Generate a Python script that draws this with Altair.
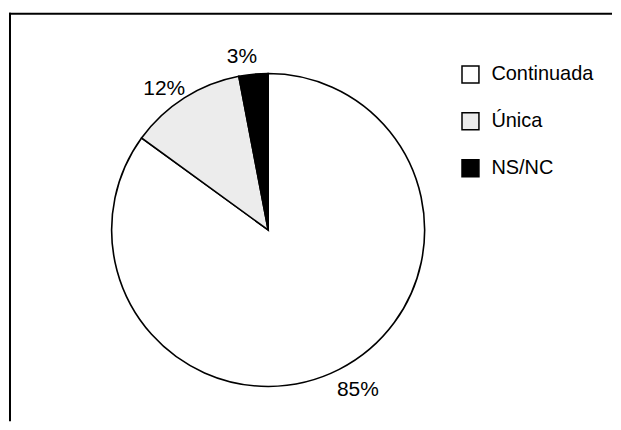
import altair as alt
import pandas as pd
import math

categories = ["Continuada", "Única", "NS/NC"]
values = [85, 12, 3]
labels = ["85%", "12%", "3%"]
order_idx = [0, 1, 2]
fills = ["#ffffff", "#ececec", "#000000"]

df = pd.DataFrame({"cat": categories, "val": values, "lab": labels, "ord": order_idx})

FONT = "Liberation Sans"
W, H = 605, 414
CX, CY, R = 260, 222, 157
ROT = -3 * math.pi / 180

color = alt.Color(
    "cat:N",
    scale=alt.Scale(domain=categories, range=fills),
    legend=alt.Legend(
        title=None,
        orient="none",
        legendX=453,
        legendY=56,
        symbolType="square",
        symbolSize=289,
        symbolStrokeColor="black",
        symbolStrokeWidth=1.5,
        labelFont=FONT,
        labelFontSize=20,
        labelColor="black",
        labelOffset=11,
        rowPadding=23,
        padding=0,
    ),
)

pie = alt.Chart(df).mark_arc(stroke="black", strokeWidth=1.6, outerRadius=R).encode(
    theta=alt.Theta("val:Q", stack=True),
    order=alt.Order("ord:Q"),
    color=color,
    x=alt.value(CX),
    y=alt.value(CY),
)

text = alt.Chart(df).mark_text(
    font=FONT, fontSize=21, color="black", align="center", baseline="middle", dy=5
).encode(
    theta=alt.Theta("val:Q", stack=True,
                    scale=alt.Scale(range=[ROT, 2 * math.pi + ROT])),
    order=alt.Order("ord:Q"),
    text="lab:N",
    radius=alt.value(180),
    x=alt.value(CX),
    y=alt.value(CY),
)

frame_df = pd.DataFrame({"k": [0]})
top_line = alt.Chart(frame_df).mark_rule(color="black", strokeWidth=2).encode(
    x=alt.value(0), x2=alt.value(W), y=alt.value(5)
)
left_line = alt.Chart(frame_df).mark_rule(color="black", strokeWidth=2).encode(
    x=alt.value(1), y=alt.value(4), y2=alt.value(H)
)

chart = (
    alt.layer(pie, text, top_line, left_line)
    .resolve_scale(theta="independent")
    .properties(width=W, height=H, padding=0, background="white")
    .configure_view(stroke=None)
)

chart.save("out.html", embed_options={"renderer": "svg", "actions": False})
